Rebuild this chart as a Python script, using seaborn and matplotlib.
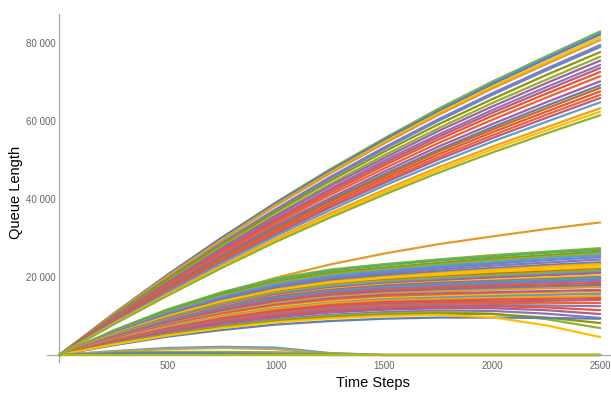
import numpy as np
import pandas as pd
import matplotlib
matplotlib.use("Agg")
import matplotlib.pyplot as plt
import seaborn as sns
from matplotlib.ticker import MultipleLocator, FuncFormatter

# ---------------- data (values in thousands) ----------------
time_steps = [0, 250, 500, 750, 1000, 1250, 1500, 1750, 2000, 2250, 2500]

upper_lines = [
    [0, 10.5, 20.5, 30.0, 39.1, 47.6, 55.5, 63.1, 70.1, 76.6, 83.0],
    [0, 10.2, 20.0, 29.5, 38.6, 47.1, 55.1, 62.6, 69.7, 76.3, 82.6],
    [0, 10.6, 20.6, 30.1, 39.0, 47.3, 55.2, 62.5, 69.4, 75.9, 82.2],
    [0, 10.3, 20.1, 29.5, 38.4, 46.7, 54.5, 61.9, 68.8, 75.2, 81.5],
    [0, 10.4, 20.2, 29.5, 38.3, 46.5, 54.2, 61.5, 68.3, 74.6, 80.8],
    [0, 10.1, 19.6, 28.8, 37.4, 45.6, 53.2, 60.4, 67.1, 73.4, 79.5],
    [0, 9.9, 19.4, 28.5, 37.1, 45.2, 52.8, 60.0, 66.7, 73.0, 79.0],
    [0, 10.0, 19.4, 28.3, 36.7, 44.6, 52.1, 59.1, 65.6, 71.8, 77.7],
    [0, 9.7, 18.9, 27.7, 36.0, 43.8, 51.2, 58.1, 64.6, 70.6, 76.5],
    [0, 9.6, 18.6, 27.3, 35.6, 43.3, 50.5, 57.4, 63.7, 69.7, 75.5],
    [0, 9.5, 18.4, 26.9, 35.0, 42.6, 49.8, 56.5, 62.8, 68.7, 74.4],
    [0, 9.3, 18.2, 26.6, 34.7, 42.2, 49.2, 55.9, 62.1, 67.9, 73.6],
    [0, 9.2, 17.9, 26.3, 34.2, 41.6, 48.6, 55.2, 61.3, 67.0, 72.6],
    [0, 9.1, 17.7, 25.9, 33.7, 41.0, 47.8, 54.3, 60.3, 66.0, 71.5],
    [0, 8.9, 17.3, 25.4, 33.1, 40.2, 47.0, 53.4, 59.2, 64.8, 70.2],
    [0, 8.8, 17.1, 25.1, 32.6, 39.7, 46.3, 52.6, 58.4, 63.9, 69.2],
    [0, 8.7, 16.9, 24.8, 32.3, 39.3, 45.8, 52.1, 57.8, 63.2, 68.5],
    [0, 8.6, 16.7, 24.5, 31.8, 38.7, 45.2, 51.4, 57.1, 62.4, 67.6],
    [0, 8.5, 16.5, 24.1, 31.4, 38.2, 44.6, 50.7, 56.3, 61.6, 66.7],
    [0, 8.4, 16.3, 23.9, 31.0, 37.8, 44.1, 50.1, 55.6, 60.8, 65.9],
    [0, 8.2, 16.0, 23.5, 30.5, 37.1, 43.4, 49.2, 54.7, 59.8, 64.8],
    [0, 8.0, 15.6, 22.9, 29.8, 36.3, 42.3, 48.1, 53.4, 58.4, 63.3],
    [0, 7.9, 15.4, 22.6, 29.4, 35.8, 41.7, 47.4, 52.7, 57.6, 62.4],
    [0, 7.8, 15.2, 22.3, 29.0, 35.2, 41.1, 46.7, 51.9, 56.8, 61.5],
]

middle_lines = [
    [0, 5.8, 11.3, 15.8, 19.8, 23.2, 26.0, 28.4, 30.4, 32.3, 34.0],
    [0, 6.3, 11.7, 16.1, 19.6, 21.9, 23.3, 24.5, 25.6, 26.5, 27.4],
    [0, 6.2, 11.5, 15.9, 19.3, 21.6, 23.0, 24.2, 25.2, 26.2, 27.0],
    [0, 6.0, 11.2, 15.5, 18.8, 21.1, 22.4, 23.6, 24.7, 25.6, 26.5],
    [0, 5.9, 11.0, 15.2, 18.5, 20.7, 22.0, 23.2, 24.3, 25.2, 26.1],
    [0, 5.8, 10.8, 14.9, 18.1, 20.3, 21.6, 22.8, 23.8, 24.8, 25.6],
    [0, 5.7, 10.6, 14.6, 17.8, 19.9, 21.2, 22.4, 23.4, 24.3, 25.1],
    [0, 5.6, 10.4, 14.4, 17.5, 19.6, 20.8, 21.9, 22.9, 23.7, 24.5],
    [0, 5.5, 10.2, 14.1, 17.1, 19.2, 20.4, 21.4, 22.3, 23.1, 23.8],
    [0, 5.4, 10.0, 13.8, 16.8, 18.8, 20.0, 21.0, 21.9, 22.7, 23.4],
    [0, 5.3, 9.9, 13.7, 16.6, 18.6, 19.8, 20.8, 21.6, 22.4, 23.1],
    [0, 5.3, 9.8, 13.5, 16.4, 18.3, 19.5, 20.4, 21.2, 21.9, 22.5],
    [0, 5.2, 9.6, 13.2, 16.1, 18.0, 19.2, 20.0, 20.8, 21.4, 22.0],
    [0, 5.1, 9.5, 13.1, 16.0, 17.9, 19.0, 19.8, 20.5, 21.1, 21.7],
    [0, 5.0, 9.3, 12.8, 15.6, 17.5, 18.6, 19.4, 20.1, 20.7, 21.3],
    [0, 4.9, 9.2, 12.6, 15.4, 17.2, 18.3, 19.1, 19.8, 20.4, 21.0],
    [0, 4.9, 9.0, 12.4, 15.1, 16.9, 18.0, 18.7, 19.3, 19.9, 20.4],
    [0, 4.8, 8.9, 12.3, 15.0, 16.7, 17.8, 18.5, 19.0, 19.5, 20.0],
    [0, 4.7, 8.7, 12.0, 14.6, 16.4, 17.4, 18.1, 18.7, 19.3, 19.8],
    [0, 4.6, 8.6, 11.9, 14.4, 16.2, 17.2, 17.9, 18.5, 19.0, 19.5],
    [0, 4.6, 8.5, 11.7, 14.3, 16.0, 17.0, 17.6, 18.1, 18.6, 19.0],
    [0, 4.5, 8.3, 11.5, 13.9, 15.6, 16.6, 17.2, 17.7, 18.1, 18.5],
    [0, 4.4, 8.2, 11.2, 13.7, 15.3, 16.3, 16.8, 17.3, 17.6, 18.0],
    [0, 4.3, 8.0, 11.0, 13.4, 15.0, 16.0, 16.5, 17.0, 17.4, 17.8],
    [0, 4.3, 7.9, 10.9, 13.3, 14.9, 15.8, 16.3, 16.7, 17.1, 17.4],
    [0, 4.2, 7.7, 10.6, 12.9, 14.5, 15.4, 15.8, 16.1, 16.4, 16.7],
    [0, 4.1, 7.5, 10.4, 12.6, 14.1, 15.0, 15.4, 15.7, 15.9, 16.2],
    [0, 3.9, 7.3, 10.1, 12.3, 13.7, 14.6, 15.0, 15.4, 15.7, 16.0],
    [0, 3.9, 7.2, 9.9, 12.0, 13.4, 14.3, 14.7, 15.1, 15.4, 15.7],
    [0, 3.8, 7.0, 9.7, 11.8, 13.2, 14.0, 14.3, 14.6, 14.9, 15.1],
    [0, 3.7, 6.8, 9.4, 11.4, 12.8, 13.6, 13.9, 14.2, 14.4, 14.6],
    [0, 3.6, 6.6, 9.1, 11.1, 12.4, 13.2, 13.5, 13.7, 13.9, 14.1],
    [0, 3.5, 6.4, 8.8, 10.8, 12.0, 12.8, 13.1, 13.3, 13.4, 13.3],
    [0, 3.3, 6.2, 8.6, 10.4, 11.7, 12.4, 12.7, 12.8, 12.7, 12.5],
    [0, 3.2, 6.0, 8.3, 10.1, 11.3, 12.0, 12.4, 12.5, 12.2, 11.5],
    [0, 3.1, 5.8, 8.0, 9.7, 10.9, 11.6, 12.0, 12.0, 11.5, 10.5],
    [0, 3.0, 5.5, 7.6, 9.2, 10.3, 11.0, 11.4, 11.3, 10.6, 9.5],
    [0, 2.9, 5.3, 7.3, 8.9, 10.0, 10.6, 11.0, 10.6, 9.2, 6.9],
    [0, 2.8, 5.2, 7.1, 8.7, 9.7, 10.3, 10.6, 10.5, 9.6, 8.2],
    [0, 2.5, 4.7, 6.4, 7.8, 8.7, 9.3, 9.6, 9.6, 9.5, 9.3],
    [0, 2.7, 5.0, 6.9, 8.4, 9.4, 10.0, 10.3, 9.7, 7.6, 4.6],
]

bottom_lines = [
    [0, 1.0, 1.8, 2.1, 1.9, 0.5, 0.0, 0.0, 0.0, 0.0, 0.0],
    [0, 0.9, 1.5, 1.8, 1.5, 0.3, 0.0, 0.0, 0.0, 0.0, 0.0],
    [0, 0.7, 0.8, 0.8, 0.7, 0.4, 0.0, 0.0, 0.0, 0.0, 0.0],
    [0, 0.4, 0.5, 0.4, 0.2, 0.0, 0.0, 0.0, 0.0, 0.0, 0.0],
    [0, 0.0, 0.0, 0.0, 0.0, 0.0, 0.0, 0.0, 0.0, 0.0, 0.0],
]

# ---------------- style ----------------
upper_colors = ['#8FB032', '#5D9EC7', '#5E81B5', '#FFBF00', '#E09C24', '#8778B3',
                '#6685D9', '#929600', '#8FB032', '#A5609D', '#8778B3', '#BC5B80',
                '#E95536', '#EB6235', '#A5609D', '#5E81B5', '#C56E1A', '#E95536',
                '#EB6235', '#BC5B80', '#5D9EC7', '#F89F13', '#FFBF00', '#8FB032']
middle_colors = ['#E09C24',
                 '#8FB032', '#47B66D', '#929600', '#8FB032', '#5D9EC7', '#6685D9',
                 '#8778B3', '#5E81B5', '#F89F13', '#FFBF00', '#FFBF00', '#C56E1A',
                 '#8FB032', '#5D9EC7', '#A5609D', '#FFBF00', '#BC5B80', '#47B66D',
                 '#6685D9', '#8778B3', '#E95536', '#BC5B80', '#5E81B5', '#E09C24',
                 '#A5609D', '#EB6235', '#FFBF00', '#5D9EC7', '#F89F13', '#E95536',
                 '#BC5B80', '#EB6235', '#8778B3', '#E95536', '#A5609D', '#8778B3',
                 '#8FB032', '#929600', '#5E81B5', '#FFBF00']
bottom_colors = ['#5D9EC7', '#C9A063', '#8FB032', '#5E81B5', '#B5B520']

# ---------------- build long table ----------------
rows = []
palette = {}
groups = [("m", middle_lines, middle_colors), ("b", bottom_lines, bottom_colors),
          ("u", upper_lines, upper_colors)]
for gname, lines, cols in groups:
    for i, vals in enumerate(lines):
        name = f"{gname}{i}"
        palette[name] = cols[i % len(cols)]
        for t, v in zip(time_steps, vals):
            rows.append({"series": name, "t": t, "q": v * 1000.0})
df = pd.DataFrame(rows)

sns.set_style("white")
plt.rcParams['font.family'] = ['Liberation Sans', 'DejaVu Sans']

fig = plt.figure(figsize=(6.11, 3.94), dpi=100)
ax = fig.add_axes([0.0777, 0.0812, 0.9223, 0.8832])

sns.lineplot(data=df, x="t", y="q", hue="series", palette=palette,
             legend=False, linewidth=1.6, ax=ax, zorder=3, estimator=None)

ax.set_xlim(-55, 2550)
ax.set_ylim(-1800, 87450)

for s in ["top", "right"]:
    ax.spines[s].set_visible(False)
ax.spines["left"].set_position(("data", 0))
ax.spines["bottom"].set_position(("data", 0))
for s in ["left", "bottom"]:
    ax.spines[s].set_color("#a8a8a8")
    ax.spines[s].set_linewidth(0.9)
    ax.spines[s].set_zorder(2)

ax.xaxis.set_major_locator(MultipleLocator(500))
ax.xaxis.set_minor_locator(MultipleLocator(100))
ax.yaxis.set_major_locator(MultipleLocator(20000))
ax.yaxis.set_minor_locator(MultipleLocator(5000))
ax.xaxis.set_major_formatter(FuncFormatter(lambda v, p: "" if abs(v) < 1e-6 else f"{int(round(v))}"))
ax.yaxis.set_major_formatter(FuncFormatter(
    lambda v, p: "" if abs(v) < 1e-6 else f"{int(round(v)):,}".replace(",", " ")))

ax.tick_params(axis="both", which="major", direction="in", length=4, width=0.8,
               color="#a8a8a8", labelcolor="#666666", labelsize=7, pad=2.5)
ax.tick_params(axis="x", which="major", pad=4)
ax.tick_params(axis="both", which="minor", direction="in", length=2.2, width=0.7,
               color="#a8a8a8")

ax.set_xlabel("Time Steps", fontsize=10.5, color="black")
ax.set_ylabel("Queue Length", fontsize=10.5, color="black")
ax.xaxis.label.set_va("center")
ax.yaxis.label.set_va("center")
ax.xaxis.set_label_coords(0.578, -0.06)
ax.yaxis.set_label_coords(-0.056, 0.486)

fig.savefig("out.png", dpi=100)
